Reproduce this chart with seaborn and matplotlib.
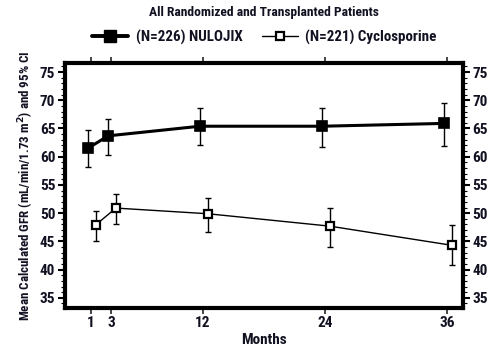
import pandas as pd
import seaborn as sns
import matplotlib.pyplot as plt
from matplotlib.ticker import MultipleLocator
from matplotlib.lines import Line2D

months = [1, 3, 12, 24, 36]
nulojix_mean = [61.5, 63.7, 65.4, 65.4, 65.9]
nulojix_low = [58.2, 60.3, 62.0, 61.7, 61.9]
nulojix_high = [64.7, 66.6, 68.6, 68.7, 69.6]
cyclo_mean = [47.9, 50.9, 49.9, 47.7, 44.3]
cyclo_low = [45.0, 48.1, 46.6, 44.0, 40.9]
cyclo_high = [50.4, 53.4, 52.7, 50.9, 47.9]

sns.set_style('white')
plt.rcParams['font.family'] = ['Liberation Sans Narrow', 'Roboto Condensed', 'Liberation Sans', 'DejaVu Sans']
plt.rcParams['font.weight'] = 'bold'
txt = '#111122'

df = pd.DataFrame({
    'month': months * 2,
    'gfr': nulojix_mean + cyclo_mean,
    'low': nulojix_low + cyclo_low,
    'high': nulojix_high + cyclo_high,
    'group': ['NULOJIX'] * 5 + ['Cyclosporine'] * 5,
})
# small horizontal offset so the two series don't overlap
df['x'] = df['month'] + df['group'].map({'NULOJIX': -0.3, 'Cyclosporine': 0.45})

fig = plt.figure(figsize=(4.96, 3.5), dpi=100)
ax = fig.add_axes([0.131, 0.12, 0.802, 0.70])

for grp, lw, ms, mew, face in [('NULOJIX', 2.2, 7, 1.2, 'black'), ('Cyclosporine', 1.0, 5.5, 1.6, 'white')]:
    d = df[df['group'] == grp]
    ax.errorbar(d['x'], d['gfr'], yerr=[d['gfr'] - d['low'], d['high'] - d['gfr']],
                fmt='none', ecolor='black', elinewidth=1.0, capsize=2.5, capthick=1.0, zorder=2)
    sns.lineplot(data=d, x='x', y='gfr', ax=ax, color='black', linewidth=lw,
                 marker='s', markersize=ms, markerfacecolor=face, markeredgecolor='black',
                 markeredgewidth=mew, zorder=3, legend=False)

ax.set_xlim(-1.55, 37.5)
ax.set_ylim(33.2, 76.6)
ax.set_xticks(months)
ax.set_yticks(range(35, 80, 5))
ax.yaxis.set_minor_locator(MultipleLocator(1))
ax.tick_params(axis='y', which='both', left=True, right=True, labelleft=True, labelright=True,
               direction='out', colors='black', labelcolor=txt, labelsize=11, pad=2)
ax.tick_params(axis='y', which='major', length=5, width=1.5)
ax.tick_params(axis='y', which='minor', length=3, width=0.8)
ax.tick_params(axis='x', which='major', bottom=True, top=True, direction='out', length=4,
               width=1.2, labelcolor=txt, labelsize=11, pad=2)
for s in ax.spines.values():
    s.set_linewidth(3)
    s.set_color('black')

ax.set_xlabel('Months', fontsize=11, color=txt, fontweight='bold', labelpad=2)
ax.set_ylabel('Mean Calculated GFR (mL/min/1.73 m$^2$) and 95% CI', fontsize=9.4,
              color=txt, fontweight='bold', labelpad=3)
fig.text(0.532, 0.965, 'All Randomized and Transplanted Patients', ha='center', va='center',
         fontsize=9.7, color=txt, fontweight='bold')

handles = [
    Line2D([], [], color='black', lw=2.8, marker='s', markersize=8, markerfacecolor='black'),
    Line2D([], [], color='black', lw=1.0, marker='s', markersize=6, markerfacecolor='white',
           markeredgewidth=1.6),
]
fig.legend(handles, ['(N=226) NULOJIX', '(N=221) Cyclosporine'], loc='center',
           bbox_to_anchor=(0.533, 0.893), ncol=2, frameon=False, fontsize=10.8,
           handlelength=2.4, columnspacing=1.3, handletextpad=0.5, labelcolor=txt)

fig.savefig('out.png', dpi=100)
